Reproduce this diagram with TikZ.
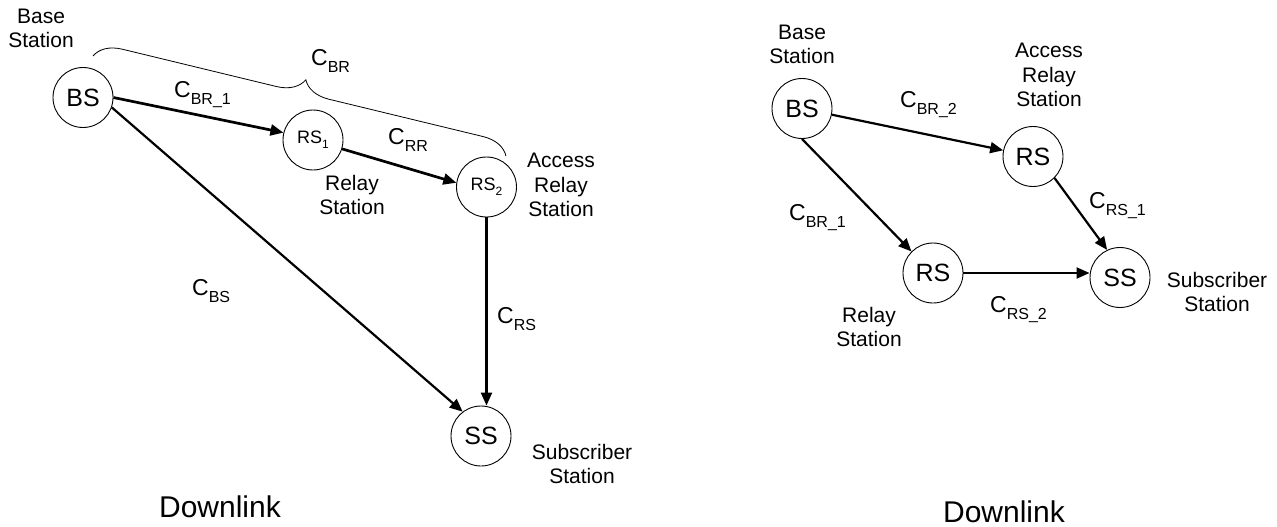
\documentclass[tikz,border=0pt]{standalone}
\usepackage{fontspec}
\setmainfont{Liberation Sans}
\usetikzlibrary{arrows.meta,decorations.pathreplacing}
\newcommand{\Clab}[1]{C\raisebox{-7pt}{\fontsize{16}{16}\selectfont #1}}
\newcommand{\Rsub}[1]{RS\raisebox{-5pt}{\fontsize{12}{12}\selectfont #1}}
\begin{document}
\begin{tikzpicture}[x=1pt,y=-1pt,
  stn/.style={circle,draw,line width=0.9pt,minimum size=60pt,inner sep=0pt,font=\fontsize{25}{25}\selectfont},
  stnsmall/.style={stn,font=\fontsize{18}{18}\selectfont},
  lbl/.style={align=center,anchor=south,inner sep=0pt,font=\fontsize{21}{24.5}\selectfont},
  clab/.style={anchor=base west,inner sep=0pt,font=\fontsize{23}{23}\selectfont},
  title/.style={anchor=base,inner sep=0pt,font=\fontsize{30}{30}\selectfont},
  link/.style={line width=2.2pt,-{Triangle[length=13pt,width=11pt]}},
  thicklink/.style={link,line width=2.7pt},
  bracestyle/.style={decorate,decoration={brace,amplitude=27pt},line width=0.8pt}
]
\useasboundingbox (0,0) rectangle (1277,527);

% ---------- left diagram ----------
\node[stn] (BS) at (83,97.5) {BS};
\node[stnsmall] (RS1) at (313,140) {\Rsub{1}};
\node[stnsmall] (RS2) at (486.5,187) {\Rsub{2}};
\node[stn] (SS) at (481,436) {SS};

\node[lbl] (lBase) at (41,48) {Base\\Station};
\node[lbl] (lRelay) at (352,215) {Relay\\Station};
\node[lbl] (lAccess) at (561,217) {Access\\Relay\\Station};
\node[lbl] (lSub) at (582,484) {Subscriber\\Station};

\draw[thicklink] (BS.east) -- (RS1.166);
\draw[thicklink] (RS1.343) -- (RS2.172);
\draw[link] (BS.341) -- (SS.127);
\draw[link] (RS2.south) -- (RS2.south |- SS.north);

\coordinate (bstart) at (93,56);
\coordinate (bend) at (506,156);
\draw[bracestyle] (bstart) -- (bend);

\node[clab] (cbr) at (311,66) {\Clab{BR}};
\node[clab] (cbr1) at (174,97) {\Clab{BR\_1}};
\node[clab] (crr) at (388,144) {\Clab{RR}};
\node[clab] (cbs) at (192,295) {\Clab{BS}};
\node[clab] (crs) at (497,323) {\Clab{RS}};

\node[title] (dl1) at (220,517) {Downlink};

% ---------- right diagram ----------
\node[stn] (BSr) at (802,108.5) {BS};
\node[stn] (RSa) at (1033,156.5) {RS};
\node[stn] (RSb) at (933,273) {RS};
\node[stn] (SSr) at (1120,277.5) {SS};

\node[lbl] (rBase) at (802,64) {Base\\Station};
\node[lbl] (rAccess) at (1049,107) {Access\\Relay\\Station};
\node[lbl] (rRelay) at (869,347) {Relay\\Station};
\node[lbl] (rSub) at (1217,312) {Subscriber\\Station};

\draw[link] (BSr) -- (RSa);
\draw[link] (BSr.south) -- (RSb.north west);
\draw[link] (RSa.south east) -- (SSr.115);
\draw[link] (RSb.east) -- (RSb.east -| SSr.west);

\node[clab] (cbr2r) at (900,107) {\Clab{BR\_2}};
\node[clab] (cbr1r) at (789,220) {\Clab{BR\_1}};
\node[clab] (crs1r) at (1089,208) {\Clab{RS\_1}};
\node[clab] (crs2r) at (990,312) {\Clab{RS\_2}};

\node[title] (dl2) at (1004,522) {Downlink};
\end{tikzpicture}
\end{document}
